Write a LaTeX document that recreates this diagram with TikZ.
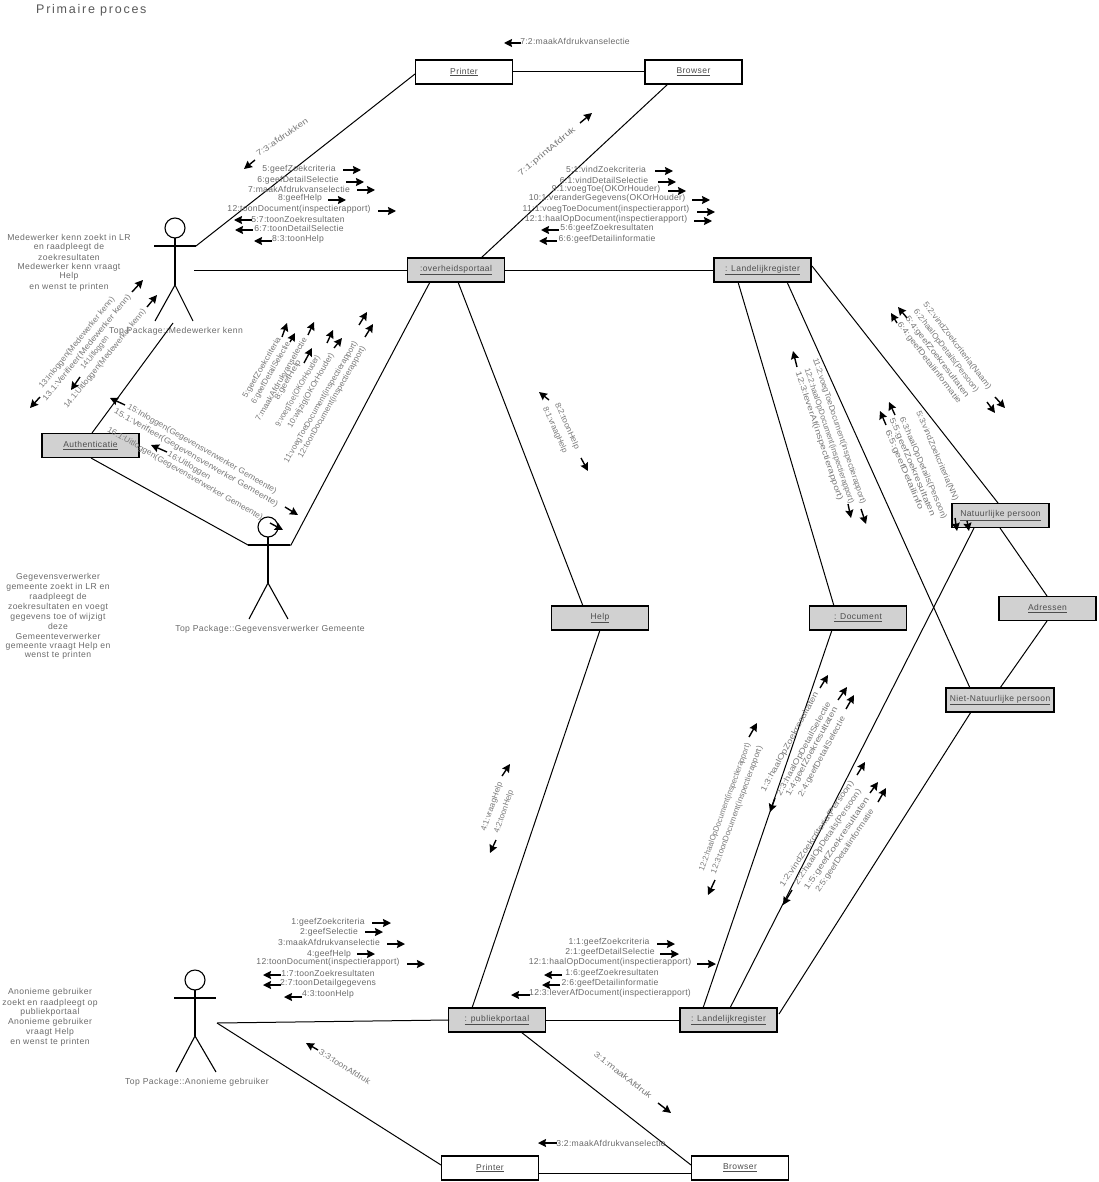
\documentclass[tikz,border=0pt]{standalone}
\usepackage{fontspec}
\setmainfont{Liberation Sans}
\usepackage{graphicx}
\usetikzlibrary{arrows.meta}
\newfontfamily\msgfont[LetterSpace=3]{Liberation Sans}
\newfontfamily\notefont[LetterSpace=5]{Liberation Sans}
\newfontfamily\titlefont[LetterSpace=14]{Liberation Sans}
\newsavebox\turnedbox
\tikzset{
  x=1pt,y=-1pt,
  classbox/.style={draw=black,line width=1.5pt,minimum width=97pt,minimum height=24pt,inner sep=0pt,font=\notefont\fontsize{8.5}{9}\selectfont,text=black!70},
  active/.style={classbox,fill=black!18},
  passive/.style={classbox,fill=white},
  link/.style={draw=black,line width=1pt},
  figure/.style={draw=black,line width=1.1pt},
  msgtext/.style={inner sep=0pt,font=\msgfont\fontsize{8.6}{9}\selectfont,text=black!58,anchor=center},
  turned/.style={inner sep=0pt,font=\fontsize{8}{9}\selectfont,text=black!52,anchor=center},
  note/.style={inner sep=0pt,font=\notefont\fontsize{8.6}{9}\selectfont,text=black!58,anchor=center},
  msgarrow/.style={draw=black,line width=1.4pt,-{Stealth[length=8pt,width=8pt,inset=1pt]}},
}
% horizontal message label: name, x, y, text
\newcommand{\msgl}[4]{\node[msgtext] (#1) at (#2,#3) {#4};}
% slanted message label, stretched sideways to a given length: name, x, y, rotation, length, text
\newcommand{\msgr}[6]{%
  \node[turned,rotate=#4] (#1) at (#2,#3) {%
    \sbox\turnedbox{#6}%
    \pgfmathsetmacro\turnedratio{#5/\the\wd\turnedbox}%
    \scalebox{\turnedratio}[1]{\usebox\turnedbox}};}
% short message direction arrow
\newcommand{\marr}[4]{\draw[msgarrow] (#1,#2) -- (#3,#4);}
% free text line
\newcommand{\ntxt}[4]{\node[note] (#1) at (#2,#3) {#4};}
% stick figure: head x, head y, hip y, left foot x, right foot x, arm start x, foot y
\newcommand{\stick}[7]{%
  \draw[figure] (#1,#2) circle[radius=10];
  \draw[figure] (#1,#2+10) -- (#1,#3);
  \draw[figure] (#4,#7) -- (#1,#3) -- (#5,#7);
  \draw[figure] (#6,#2+18) -- (#6+42,#2+18);
}
\begin{document}
\begin{tikzpicture}
\useasboundingbox (0,0) rectangle (1099,1182);
\fill[white] (0,0) rectangle (1099,1182);

\node[inner sep=0pt,anchor=west,text=black!65,font=\titlefont\fontsize{12.5}{13}\selectfont] (title) at (36,10) {Primaire proces};

% classes
\node[passive] (printerA) at (464,72) {\underline{Printer}};
\node[passive] (browserA) at (693.5,72) {\underline{Browser}};
\node[active] (overheid) at (456,270) {\underline{:overheidsportaal}};
\node[active] (landA) at (762.5,270) {\underline{: Landelijkregister}};
\node[active] (auth) at (90.5,445.5) {\underline{Authenticatie}};
\node[active] (help) at (600,618) {\underline{Help}};
\node[active] (document) at (858,618) {\underline{: Document}};
\node[active] (natuurlijk) at (1000.5,515.5) {\underline{Natuurlijke persoon}};
\node[active] (adressen) at (1047.5,608.5) {\underline{Adressen}};
\node[active,minimum width=108pt] (niet) at (1000,700) {\underline{Niet-Natuurlijke persoon}};
\node[active] (publiek) at (497,1020) {\underline{: publiekportaal}};
\node[active] (landB) at (728.5,1020) {\underline{: Landelijkregister}};
\node[passive] (printerB) at (490,1168) {\underline{Printer}};
\node[passive] (browserB) at (740,1168) {\underline{Browser}};

% actors
\stick{175}{228}{285}{155}{193}{154}{321}
\node[note] (kennL) at (176,331) {Top Package::Medewerker kenn};
\stick{268}{527}{583}{249}{288}{248}{619}
\node[note] (gemL) at (270,629) {Top Package::Gegevensverwerker Gemeente};
\stick{195}{980}{1036}{176}{216}{174}{1072}
\node[note] (anonL) at (197,1082) {Top Package::Anonieme gebruiker};

\coordinate (kennArm) at (196,246);
\coordinate (kennSide) at (194,270);
\coordinate (kennFoot) at (173,323);
\coordinate (gemA) at (248,545);
\coordinate (gemB) at (291,545);
\coordinate (anonHand) at (217,1023);
\coordinate (anonMid) at (333,1021.5);

% links
\draw[link] (kennArm) -- (415,74);
\draw[link] (printerA) -- (browserA);
\draw[link] (668,84) -- (481,258);
\draw[link] (kennSide) -- (408,270);
\draw[link] (overheid) -- (landA);
\draw[link] (430,282) -- (gemB) -- (gemA) -- (91,458);
\draw[link] (kennFoot) -- (92,433);
\draw[link] (458,282) -- (583,606);
\draw[link] (600,630) -- (472,1008);
\draw[link] (738,282) -- (834,606);
\draw[link] (787,282) -- (970,688);
\draw[link] (812,266) -- (998,503);
\draw[link] (1000,528) -- (1047,596);
\draw[link] (1047,621) -- (1000,688);
\draw[link] (974,528) -- (730,1008);
\draw[link] (832,630) -- (703,1008);
\draw[link] (971,712) -- (779,1014);
\draw[link] (anonHand) -- (anonMid) -- (449,1020);
\draw[link] (publiek) -- (landB);
\draw[link] (anonHand) -- (441,1165);
\draw[link] (521,1032) -- (691,1165);
\draw[link] (539,1173) -- (691,1173);

% free notes beside the actors
\ntxt{n1}{69}{237}{Medewerker kenn zoekt in LR}
\ntxt{n2}{69}{247}{en raadpleegt de}
\ntxt{n3}{69}{257}{zoekresultaten}
\ntxt{n4}{69}{267}{Medewerker kenn vraagt}
\ntxt{n5}{69}{276}{Help}
\ntxt{n6}{69}{287}{en wenst te printen}

\ntxt{n7}{58}{577}{Gegevensverwerker}
\ntxt{n8}{58}{587}{gemeente zoekt in LR en}
\ntxt{n9}{58}{597}{raadpleegt de}
\ntxt{n10}{58}{607}{zoekresultaten en voegt}
\ntxt{n11}{58}{617}{gegevens toe of wijzigt}
\ntxt{n12}{58}{626}{deze}
\ntxt{n13}{58}{636}{Gemeenteverwerker}
\ntxt{n14}{58}{646}{gemeente vraagt Help en}
\ntxt{n15}{58}{655}{wenst te printen}

\ntxt{n16}{50}{992}{Anonieme gebruiker}
\ntxt{n17}{50}{1003}{zoekt en raadpleegt op}
\ntxt{n18}{50}{1012}{publiekportaal}
\ntxt{n19}{50}{1022}{Anonieme gebruiker}
\ntxt{n20}{50}{1032}{vraagt Help}
\ntxt{n21}{50}{1042}{en wenst te printen}

% messages above the portal, actor side
\msgl{a1}{299}{169}{5:geefZoekcriteria}        \marr{343}{170}{361}{170}
\msgl{a2}{298}{180}{6:geefDetailSelectie}      \marr{346}{182}{364}{182}
\msgl{a3}{299}{189}{7:maakAfdrukvanselectie}   \marr{357}{190}{375}{190}
\msgl{a4}{300}{198}{8:geefHelp}                \marr{328}{200}{346}{200}
\msgl{a5}{299}{209}{12:toonDocument(inspectierapport)} \marr{378}{211}{396}{211}
\msgl{a6}{298}{219}{5:7:toonZoekresultaten}    \marr{252}{220}{234}{220}
\msgl{a7}{299}{228}{6:7:toonDetailSelectie}    \marr{253}{230}{235}{230}
\msgl{a8}{298}{239}{8:3:toonHelp}              \marr{272}{241}{254}{241}

% messages above the portal, register side
\msgl{b1}{606}{169}{5:1:vindZoekcriteria}      \marr{655}{171}{673}{171}
\msgl{b2}{604}{180}{6:1:vindDetailSelectie}    \marr{658}{182}{676}{182}
\msgl{b3}{606}{189}{9:1:voegToe(OKOrHouder)}   \marr{668}{191}{686}{191}
\msgl{b4}{607}{198}{10:1:veranderGegevens(OKOrHouder)} \marr{692}{200}{710}{200}
\msgl{b5}{606}{209}{11:1:voegToeDocument(inspectierapport)} \marr{697}{212}{715}{212}
\msgl{b6}{606}{219}{12:1:haalOpDocument(inspectierapport)} \marr{694}{221}{712}{221}
\msgl{b7}{607}{228}{5:6:geefZoekresultaten}    \marr{559}{230}{541}{230}
\msgl{b8}{607}{239}{6:6:geefDetailinformatie}  \marr{557}{241}{539}{241}

% printing messages at the top
\msgl{c1}{575}{41}{7:2:maakAfdrukvanselectie}  \marr{521}{43}{504}{43}
\msgr{c2}{547}{152}{40}{72}{7:1:printAfdruk}   \marr{580}{123}{592}{113}
\msgr{c3}{282}{137}{35}{61}{7:3:afdrukken}     \marr{255}{160}{244}{169}

% login messages, medewerker
\msgr{d1}{77}{343}{51}{115}{13:Inloggen(Medewerker kenn)}
\msgr{d2}{87}{348}{51}{135}{13.1:Verifieer(Medewerker kenn)}
\msgr{d3}{95}{353}{51}{40}{14:Uitloggen}
\msgr{d4}{105}{359}{51}{125}{14.1:Uitloggen(Medewerker kenn)}
\marr{40}{397}{30}{408}
\marr{132}{292}{143}{280}
\marr{147}{307}{157}{295}
\marr{80}{377}{71}{390}

% messages of the gemeente actor to the portal
\msgr{e1}{262}{368}{60}{69}{5:geefZoekcriteria}
\msgr{e2}{271}{373}{60}{70}{6:geefDetailSelectie}
\msgr{e3}{281}{379}{60}{95}{7:maakAfdrukvanselectie}
\msgr{e4}{288}{380}{60}{45}{8:geefHelp}
\msgr{e5}{298}{391}{60}{81}{9:voegToe(OKOrHouder)}
\msgr{e6}{311}{391}{60}{85}{10:wijzig(OKOrHouder)}
\msgr{e7}{321}{402}{60}{139}{11:voegToeDocument(inspectierapport)}
\msgr{e8}{332}{402}{60}{127}{12:toonDocument(inspectierapport)}
\marr{282}{337}{287}{323}
\marr{290}{342}{295}{333}
\marr{308}{335}{314}{322}
\marr{304}{363}{312}{348}
\marr{327}{343}{333}{330}
\marr{334}{348}{342}{338}
\marr{359}{325}{367}{312}
\marr{365}{337}{373}{324}

% login messages, gemeente
\msgr{f1}{202}{449}{-30}{171}{15:Inloggen(Gegevensverwerker Gemeente)}
\msgr{f2}{196}{458}{-30}{188}{15.1:Verifieer(Gegevensverwerker Gemeente)}
\msgr{f3}{189}{466}{-30}{48}{16:Uitloggen}
\msgr{f4}{185}{474}{-30}{178}{16.1:Uitloggen(Gegevensverwerker Gemeente)}
\marr{125}{405}{110}{398}
\marr{167}{452}{151}{445}
\marr{285}{507}{298}{515}
\marr{270}{523}{283}{530}

% help messages
\msgr{g1}{555}{430}{-66}{50}{8:1:vraagHelp}
\msgr{g2}{567}{426}{-66}{50}{8:2:toonHelp}
\marr{549}{400}{539}{392}
\marr{581}{458}{588}{471}
\msgr{g3}{492}{807}{71}{51}{4:1:vraagHelp}
\msgr{g4}{504}{812}{71}{45}{4:2:toonHelp}
\marr{502}{776}{510}{764}
\marr{496}{840}{490}{853}

% register to document
\msgr{h1}{839}{431}{-71.6}{153}{11:2:voegToeDocument(inspectierapport)}
\msgr{h2}{829}{436}{-71.6}{142}{12:2:haalOpDocument(inspectierapport)}
\msgr{h3}{819}{436}{-71.6}{135}{12:3:leverAf(inspectierapport)}
\marr{797}{367}{793}{351}
\marr{848}{504}{851}{518}
\marr{861}{509}{866}{524}

% register to natuurlijke persoon
\msgr{i1}{957}{346}{-52.6}{107}{5:2:vindZoekcriteria(Naam)}
\msgr{i2}{946}{351}{-52.6}{102}{6:2:haalOpDetails(Persoon)}
\msgr{i3}{937}{357}{-52.6}{100}{5:4:geefZoekresultaten}
\msgr{i4}{929}{363}{-52.6}{100}{6:4:geefDetailinformatie}
\marr{907}{318}{898}{307}
\marr{897}{323}{891}{313}
\marr{995}{397}{1005}{408}
\marr{987}{402}{995}{413}

% register to niet-natuurlijke persoon
\msgr{j1}{937}{456}{-67}{97}{5:3:vindZoekcriteria(NN)}
\msgr{j2}{923}{468}{-67}{110}{6:3:haalOpDetails(Persoon)}
\msgr{j3}{912}{467}{-67}{106}{5:5:geefZoekresultaten}
\msgr{j4}{904}{470}{-67}{86}{6:5:geefDetailinfo}
\marr{895}{415}{889}{402}
\marr{886}{425}{880}{411}
\marr{955}{518}{957}{531}
\marr{967}{521}{969}{531}

% low register to document
\msgr{k1}{725}{807}{69.8}{135}{12:2:haalOpDocument(inspectierapport)}
\msgr{k2}{737}{810}{69.8}{135}{12:3:toonDocument(inspectierapport)}
\marr{749}{737}{757}{723}
\marr{715}{880}{708}{895}

\msgr{l1}{790}{742}{61.5}{112}{1:3:haalOpZoekresultaten}
\msgr{l2}{804}{749}{61.5}{105}{2:3:haalOpDetailSelectie}
\msgr{l3}{812}{752}{61.5}{100}{1:4:geefZoekresultaten}
\msgr{l4}{822}{757}{61.5}{90}{2:4:geefDetailSelectie}
\marr{820}{688}{828}{675}
\marr{838}{700}{847}{687}
\marr{846}{709}{854}{695}
\marr{775}{798}{770}{812}

\msgr{o1}{817}{834}{56}{126}{1:2:vindZoekcriteria(Persoon)}
\msgr{o2}{828}{837}{56}{113}{2:2:haalOpDetails(Persoon)}
\msgr{o3}{837}{844}{56}{110}{1:5:geefZoekresultaten}
\msgr{o4}{845}{851}{56}{98}{2:5:geefDetailinformatie}
\marr{857}{775}{865}{762}
\marr{870}{793}{878}{782}
\marr{878}{802}{886}{788}
\marr{792}{890}{783}{905}

% messages of the anonymous actor
\msgl{p1}{328}{922}{1:geefZoekcriteria}      \marr{372}{923}{391}{923}
\msgl{p2}{329}{932}{2:geefSelectie}          \marr{365}{932}{383}{932}
\msgl{p3}{329}{942}{3:maakAfdrukvanselectie} \marr{387}{944}{405}{944}
\msgl{p4}{329}{954}{4:geefHelp}              \marr{357}{954}{375}{954}
\msgl{p5}{328}{962}{12:toonDocument(inspectierapport)} \marr{407}{964}{425}{964}
\msgl{p6}{328}{973}{1:7:toonZoekresultaten}  \marr{281}{975}{263}{975}
\msgl{p7}{328}{983}{2:7:toonDetailgegevens}  \marr{281}{985}{263}{985}
\msgl{p8}{328}{994}{4:3:toonHelp}            \marr{302}{997}{284}{997}

% messages of the public portal
\msgl{q1}{609}{942}{1:1:geefZoekcriteria}     \marr{657}{944}{675}{944}
\msgl{q2}{610}{952}{2:1:geefDetailSelectie}   \marr{660}{954}{679}{954}
\msgl{q3}{610}{962}{12:1:haalOpDocument(inspectierapport)} \marr{697}{964}{716}{964}
\msgl{q4}{612}{973}{1:6:geefZoekresultaten}   \marr{562}{975}{544}{975}
\msgl{q5}{610}{983}{2:6:geefDetailinformatie} \marr{560}{985}{542}{985}
\msgl{q6}{610}{993}{12:3:leverAfDocument(inspectierapport)} \marr{530}{995}{511}{995}

% printing messages at the bottom
\msgr{r1}{345}{1067}{-32}{59}{3:3:toonAfdruk}
\marr{318}{1050}{306}{1043}
\msgr{r2}{623}{1075}{-38}{71}{3:1:maakAfdruk}
\marr{658}{1103}{671}{1113}
\msgl{r3}{611}{1143}{3:2:maakAfdrukvanselectie}
\marr{557}{1143}{538}{1143}
\end{tikzpicture}
\end{document}
